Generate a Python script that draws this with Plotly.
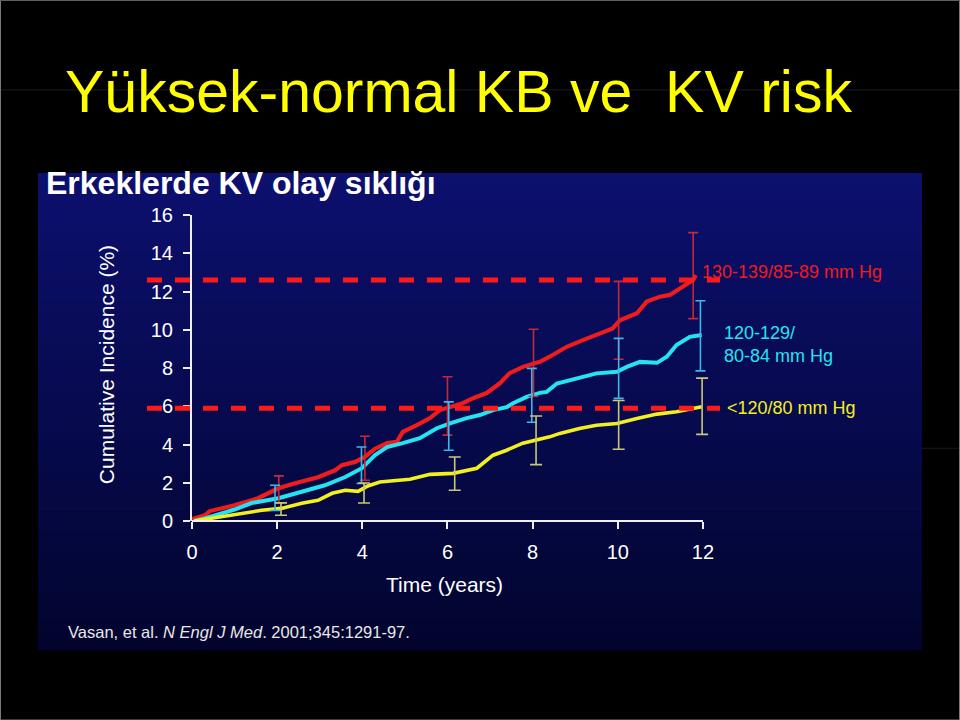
import plotly.graph_objects as go

# ---------------- data ----------------
red_t = [0, 0.3, 0.42, 1.0, 1.55, 2.03, 2.42, 2.96, 3.36, 3.52, 3.83, 4.06, 4.3, 4.58, 4.81,
         4.95, 5.28, 5.59, 5.82, 6.06, 6.36, 6.6, 6.92, 7.23, 7.46, 7.77, 8.17, 8.4, 8.8,
         9.18, 9.58, 9.88, 10.05, 10.45, 10.68, 10.99, 11.22, 11.46, 11.77, 11.83]
red_v = [0.1, 0.3, 0.52, 0.82, 1.19, 1.71, 1.97, 2.29, 2.65, 2.92, 3.09, 3.35, 3.78, 4.07, 4.14,
         4.66, 5.01, 5.38, 5.8, 5.97, 6.16, 6.42, 6.69, 7.2, 7.73, 8.06, 8.32, 8.59, 9.11,
         9.46, 9.81, 10.07, 10.5, 10.86, 11.47, 11.73, 11.82, 12.17, 12.6, 12.86]

cyan_t = [0.05, 0.3, 1.0, 1.4, 2.03, 2.58, 3.12, 3.6, 3.99, 4.3, 4.58, 4.95, 5.35, 5.75, 6.06,
          6.45, 6.76, 7.07, 7.39, 7.54, 7.86, 8.17, 8.33, 8.57, 9.04, 9.5, 9.98, 10.21,
          10.52, 10.92, 11.15, 11.38, 11.69, 11.97]
cyan_v = [0.0, 0.14, 0.6, 0.94, 1.19, 1.52, 1.87, 2.3, 2.76, 3.45, 3.87, 4.07, 4.33, 4.85, 5.11,
          5.38, 5.54, 5.8, 5.95, 6.16, 6.49, 6.7, 6.75, 7.19, 7.46, 7.72, 7.8, 8.06,
          8.32, 8.27, 8.59, 9.2, 9.63, 9.72]

yellow_t = [0.05, 0.3, 1.0, 1.64, 2.1, 2.58, 2.96, 3.29, 3.6, 3.9, 4.13, 4.41, 5.12, 5.59,
            6.13, 6.69, 7.07, 7.39, 7.77, 8.17, 8.4, 8.64, 9.1, 9.5, 9.98, 10.45, 10.92,
            11.38, 11.97]
yellow_v = [0.0, 0.09, 0.3, 0.56, 0.66, 0.93, 1.08, 1.45, 1.61, 1.55, 1.83, 2.04, 2.18, 2.44,
            2.49, 2.76, 3.44, 3.7, 4.07, 4.28, 4.4, 4.58, 4.84, 5.01, 5.1, 5.36, 5.59,
            5.71, 5.97]

# confidence interval bars
red_ci_t = [2.04, 4.06, 6.0, 8.02, 10.02, 11.77]
red_ci_hi = [2.36, 4.43, 7.54, 10.03, 12.53, 15.08]
red_ci_lo = [0.94, 2.13, 4.49, 6.51, 8.46, 10.58]

cyan_ci_t = [1.95, 3.98, 6.03, 7.98, 10.02, 11.94]
cyan_ci_hi = [1.87, 3.87, 6.23, 7.98, 9.55, 11.52]
cyan_ci_lo = [0.55, 1.96, 3.70, 5.16, 6.41, 7.85]

yellow_ci_t = [2.09, 4.04, 6.17, 8.08, 10.02, 11.98]
yellow_ci_hi = [0.95, 1.99, 3.35, 5.49, 6.30, 7.47]
yellow_ci_lo = [0.30, 0.94, 1.61, 2.95, 3.75, 4.53]

ref_levels = [12.6, 5.9]

x_ticks = [0, 2, 4, 6, 8, 10, 12]
y_ticks = [0, 2, 4, 6, 8, 10, 12, 14, 16]

labels = ["130-139/85-89 mm Hg", "120-129/<br>80-84 mm Hg", "&lt;120/80 mm Hg"]
label_pos = [(11.92, 13.0), (12.44, 9.25), (12.51, 5.9)]

title_text = "Yüksek-normal KB ve \u00a0KV risk"
subtitle_text = "Erkeklerde KV olay sıklığı"
citation = "Vasan, et al. <i>N Engl J Med</i>. 2001;345:1291-97."

# ---------------- layout geometry ----------------
W, H = 960, 720
PL, PR, PT, PB = 192, 720, 215, 520.7
X_RANGE = [0, 12.4]


def px_x(px):
    return (px - PL) / (PR - PL)


def px_y(py):
    return (PB - py) / (PB - PT)


def data_to_paper_x(x):
    return (x - X_RANGE[0]) / (X_RANGE[1] - X_RANGE[0])


FONT = "Arial, Liberation Sans, Helvetica, sans-serif"
RED, CYAN, YELLOW = "#ee1c1c", "#25e3f0", "#f2f01e"
RED_E, CYAN_E, YELLOW_E = "#c02a3a", "#3fb6e8", "#c8c878"

fig = go.Figure()

for t, v, c, w in [(red_t, red_v, RED, 4.2), (cyan_t, cyan_v, CYAN, 4), (yellow_t, yellow_v, YELLOW, 3.6)]:
    fig.add_trace(go.Scatter(x=t, y=v, mode="lines", line=dict(color=c, width=w),
                             showlegend=False, hoverinfo="skip"))

for t, hi, lo, c, w in [(red_ci_t, red_ci_hi, red_ci_lo, RED_E, 5),
                        (cyan_ci_t, cyan_ci_hi, cyan_ci_lo, CYAN_E, 5),
                        (yellow_ci_t, yellow_ci_hi, yellow_ci_lo, YELLOW_E, 6)]:
    mid = [(a + b) / 2 for a, b in zip(hi, lo)]
    fig.add_trace(go.Scatter(
        x=t, y=mid, mode="markers", marker=dict(size=1, color="rgba(0,0,0,0)"),
        error_y=dict(type="data", symmetric=False,
                     array=[a - m for a, m in zip(hi, mid)],
                     arrayminus=[m - b for m, b in zip(mid, lo)],
                     color=c, thickness=1.6, width=w),
        showlegend=False, hoverinfo="skip", cliponaxis=False))

shapes = []
# gradient panel
top_c = (12, 16, 110)
bot_c = (2, 4, 46)
y_top, y_bot = 173, 650
N = 48
for i in range(N):
    f = i / (N - 1)
    col = tuple(int(round(top_c[k] + (bot_c[k] - top_c[k]) * f)) for k in range(3))
    ya = y_top + (y_bot - y_top) * i / N
    yb = y_top + (y_bot - y_top) * (i + 1) / N + 0.6
    shapes.append(dict(type="rect", xref="paper", yref="paper",
                       x0=px_x(38), x1=px_x(922), y0=px_y(min(yb, y_bot)), y1=px_y(ya),
                       fillcolor="rgb(%d,%d,%d)" % col, line=dict(width=0), layer="below"))
# faint slide artifacts
shapes.append(dict(type="line", xref="paper", yref="paper", x0=px_x(0), x1=px_x(960),
                   y0=px_y(90), y1=px_y(90), line=dict(color="#1c1c1c", width=1), layer="below"))
shapes.append(dict(type="line", xref="paper", yref="paper", x0=px_x(922), x1=px_x(960),
                   y0=px_y(448), y1=px_y(448), line=dict(color="#1c1c1c", width=1), layer="below"))
shapes.append(dict(type="rect", xref="paper", yref="paper", x0=px_x(0.5), x1=px_x(959.5),
                   y0=px_y(719.5), y1=px_y(0.5), line=dict(color="#7a7a7a", width=1), layer="below"))
# x axis line (0..12)
shapes.append(dict(type="line", xref="x", yref="paper", x0=x_ticks[0], x1=x_ticks[-1],
                   y0=0, y1=0, line=dict(color="#f0f0f0", width=2)))
# dashed reference levels
for lvl in ref_levels:
    shapes.append(dict(type="line", xref="paper", yref="y", x0=px_x(147), x1=px_x(720),
                       y0=lvl, y1=lvl, line=dict(color="#ff1a1a", width=5, dash="15px,13px"),
                       layer="above"))

annotations = [
    dict(text=title_text, xref="paper", yref="paper", x=px_x(458), y=px_y(92),
         xanchor="center", yanchor="middle", showarrow=False,
         font=dict(family=FONT, size=59, color="#ffff00")),
    dict(text="<b>" + subtitle_text + "</b>", xref="paper", yref="paper", x=px_x(44),
         y=px_y(183), xanchor="left", yanchor="middle", showarrow=False,
         font=dict(family=FONT, size=32, color="#ffffff")),
    dict(text="Cumulative Incidence (%)", xref="paper", yref="paper", x=px_x(106),
         y=px_y(365), xanchor="center", yanchor="middle", textangle=-90, showarrow=False,
         font=dict(family=FONT, size=21, color="#ffffff")),
    dict(text="Time (years)", xref="paper", yref="paper", x=px_x(444), y=px_y(584),
         xanchor="center", yanchor="middle", showarrow=False,
         font=dict(family=FONT, size=21, color="#ffffff")),
    dict(text=citation, xref="paper", yref="paper", x=px_x(66), y=px_y(632),
         xanchor="left", yanchor="middle", showarrow=False,
         font=dict(family=FONT, size=16.5, color="#e8e8e8")),
]
for txt, (lx, ly), c in zip(labels, label_pos, [RED, CYAN, YELLOW]):
    annotations.append(dict(text=txt, xref="paper", yref="y", x=data_to_paper_x(lx), y=ly,
                            xanchor="left", yanchor="middle", align="left", showarrow=False,
                            font=dict(family=FONT, size=18, color=c)))

fig.update_layout(
    width=W, height=H,
    margin=dict(l=PL, r=W - PR, t=PT, b=H - PB, pad=0),
    paper_bgcolor="#000000", plot_bgcolor="rgba(0,0,0,0)",
    shapes=shapes, annotations=annotations, showlegend=False,
    xaxis=dict(range=X_RANGE, tickvals=x_ticks, showline=False, showgrid=False,
               zeroline=False, ticks="outside", ticklen=7, tickwidth=2, tickcolor="#f0f0f0",
               ticklabelstandoff=6,
               tickfont=dict(family=FONT, size=20, color="#ffffff")),
    yaxis=dict(range=[0, 16], tickvals=y_ticks, showline=True, linecolor="#f0f0f0",
               linewidth=2, showgrid=False, zeroline=False, ticks="outside", ticklen=7,
               tickwidth=2, tickcolor="#f0f0f0", ticklabelstandoff=6,
               tickfont=dict(family=FONT, size=20, color="#ffffff")),
)

fig.write_html("out.html", config={"displayModeBar": False},
               post_script="document.body.style.margin='0';document.body.style.padding='0';"
                           "document.body.style.background='#000';"
                           "document.documentElement.style.overflow='hidden';")
